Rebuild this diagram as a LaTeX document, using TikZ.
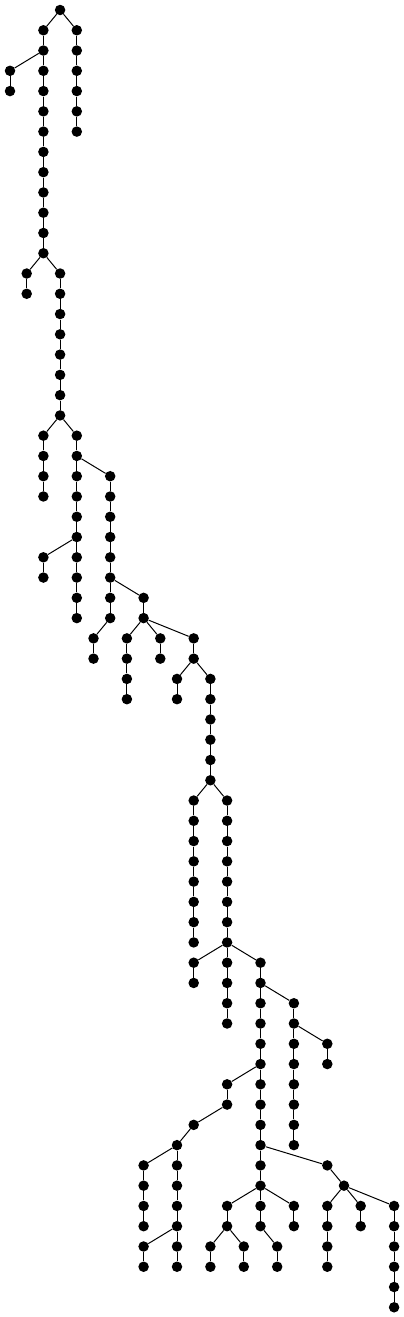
\documentclass[tikz,border=0pt]{standalone}
\begin{document}
\begin{tikzpicture}[x=16.7pt,y=-20.27pt,
  dot/.style={circle,fill=black,draw=none,inner sep=0pt,minimum size=10.5pt},
  link/.style={line width=1pt,black}]
\useasboundingbox (-10pt,10pt) rectangle (394pt,-1307pt);
% vertical chains: column / first level / last level
\foreach \col/\ra/\rb in {3/0/0, 4/1/6, 2/1/12, 0/3/4, 1/13/14, 3/13/20,
  2/21/24, 4/21/30, 2/27/28, 6/23/30, 5/31/32, 8/29/30, 7/31/34, 9/31/32,
  11/31/32, 10/33/34, 12/33/38, 11/39/46, 11/47/48, 13/39/50, 15/47/60,
  17/49/56, 19/51/52, 13/53/54, 11/55/55, 10/56/62, 8/57/60, 8/61/62,
  13/59/60, 12/61/62, 14/61/62, 16/61/62, 17/59/60, 19/57/57, 20/58/58,
  19/59/62, 21/59/60, 23/59/64}{
  \foreach \lv in {\ra,...,\rb}{\node[dot] (n\col x\lv) at (\col,\lv) {};}
  \ifnum\ra<\rb
    \pgfmathtruncatemacro\rbm{\rb-1}
    \foreach \lv in {\ra,...,\rbm}{
      \pgfmathtruncatemacro\nx{\lv+1}
      \draw[link] (n\col x\lv) -- (n\col x\nx);}
  \fi
}
% branching connectors
\foreach \p/\q in {n3x0/n2x1, n3x0/n4x1, n2x2/n0x3, n2x12/n1x13, n2x12/n3x13,
  n3x20/n2x21, n3x20/n4x21, n4x22/n6x23, n4x26/n2x27, n6x28/n8x29,
  n6x30/n5x31, n8x30/n7x31, n8x30/n9x31, n8x30/n11x31, n11x32/n10x33,
  n11x32/n12x33, n12x38/n11x39, n12x38/n13x39, n13x46/n11x47, n13x46/n15x47,
  n15x48/n17x49, n17x50/n19x51, n15x52/n13x53, n13x54/n11x55, n11x55/n10x56,
  n10x56/n8x57, n10x60/n8x61, n15x56/n19x57, n19x57/n20x58, n20x58/n19x59,
  n20x58/n21x59, n20x58/n23x59, n15x58/n13x59, n15x58/n17x59,
  n13x60/n12x61, n13x60/n14x61, n15x60/n16x61}{
  \draw[link] (\p) -- (\q);}
\end{tikzpicture}
\end{document}
